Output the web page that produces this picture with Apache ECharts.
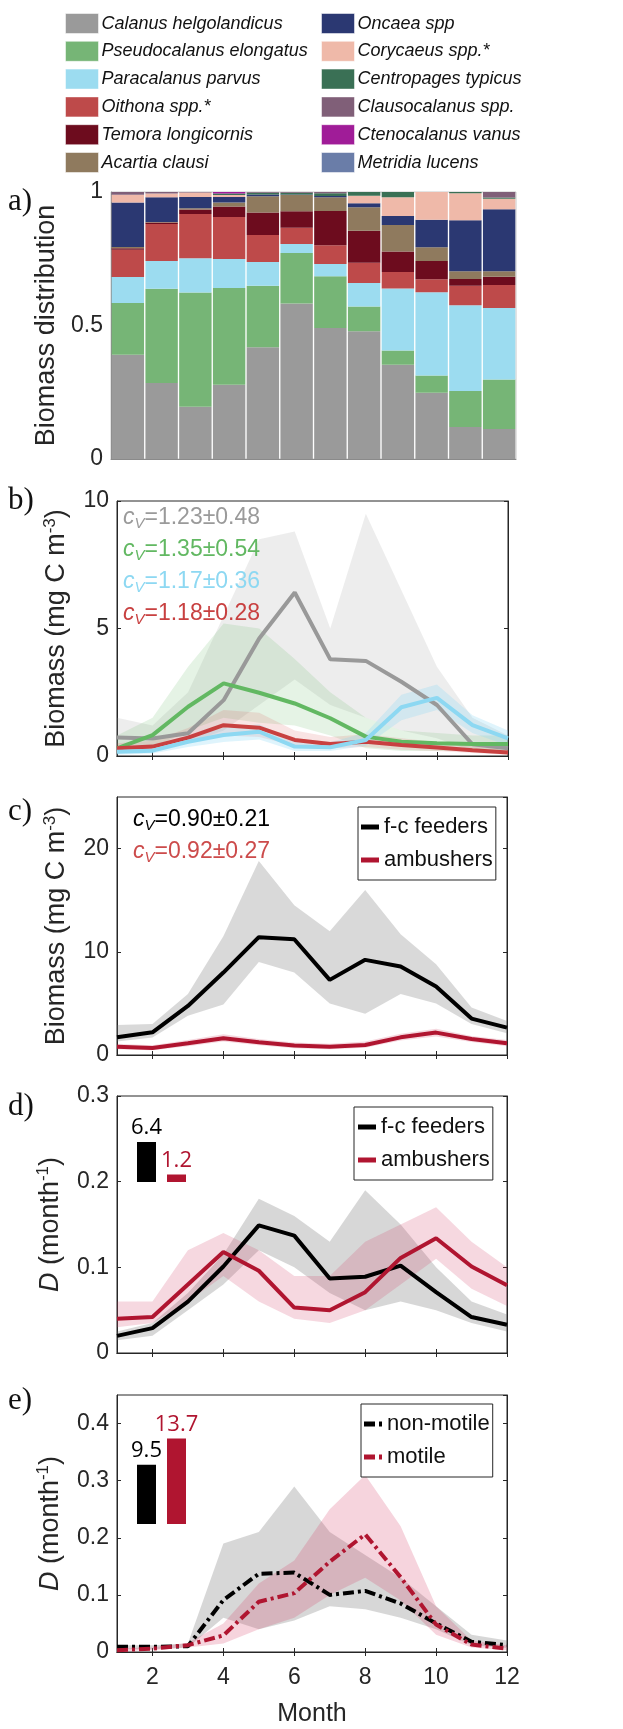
<!DOCTYPE html>
<html>
<head>
<meta charset="utf-8">
<script src="https://cdn.jsdelivr.net/npm/echarts@6/dist/echarts.min.js"></script>
<style>
  html, body { margin: 0; padding: 0; background: #fff; }
  #main { width: 623px; height: 1729px; }
</style>
</head>
<body>
<div id="main"></div>
<script>
var months = ['1', '2', '3', '4', '5', '6', '7', '8', '9', '10', '11', '12'];

// a) biomass fractions per species (stack order = legend order)
var speciesNames = ['Calanus helgolandicus', 'Pseudocalanus elongatus', 'Paracalanus parvus',
  'Oithona spp.*', 'Temora longicornis', 'Acartia clausi', 'Oncaea spp', 'Corycaeus spp.*',
  'Centropages typicus', 'Clausocalanus spp.', 'Ctenocalanus vanus', 'Metridia lucens'];
var speciesColors = ['#9a9a9a', '#76b576', '#9cdcf0', '#be4a4a', '#6d0c1e', '#8f7a5e',
  '#2b3872', '#efb9a9', '#3a7055', '#805f78', '#a01c98', '#6a7da8'];
var calanusFrac = [0.390, 0.285, 0.196, 0.278, 0.419, 0.582, 0.491, 0.478, 0.353, 0.248, 0.120, 0.112];
var pseudoFrac = [0.194, 0.353, 0.428, 0.362, 0.230, 0.190, 0.193, 0.093, 0.053, 0.065, 0.135, 0.186];
var paraFrac = [0.098, 0.104, 0.128, 0.109, 0.089, 0.033, 0.046, 0.088, 0.233, 0.312, 0.321, 0.268];
var oithonaFrac = [0.102, 0.138, 0.166, 0.157, 0.101, 0.061, 0.071, 0.076, 0.061, 0.048, 0.073, 0.086];
var temoraFrac = [0.005, 0.006, 0.016, 0.040, 0.084, 0.062, 0.128, 0.120, 0.077, 0.069, 0.025, 0.031];
var acartiaFrac = [0.005, 0.002, 0.005, 0.015, 0.061, 0.061, 0.051, 0.088, 0.099, 0.051, 0.029, 0.020];
var oncaeaFrac = [0.167, 0.092, 0.042, 0.020, 0.007, 0.002, 0.005, 0.015, 0.034, 0.103, 0.191, 0.232];
var corycaeusFrac = [0.029, 0.014, 0.017, 0.008, 0.000, 0.000, 0.000, 0.028, 0.070, 0.104, 0.101, 0.040];
var centropagesFrac = [0.000, 0.000, 0.000, 0.005, 0.006, 0.006, 0.010, 0.014, 0.020, 0.000, 0.005, 0.004];
var clausoFrac = [0.010, 0.006, 0.002, 0.000, 0.003, 0.005, 0.005, 0.000, 0.000, 0.000, 0.000, 0.021];
var ctenoFrac = [0.000, 0.000, 0.000, 0.006, 0.000, 0.000, 0.000, 0.000, 0.000, 0.000, 0.000, 0.000];
var metridiaFrac = [0.000, 0.000, 0.000, 0.000, 0.000, 0.000, 0.000, 0.000, 0.000, 0.000, 0.000, 0.000];
var speciesFrac = [calanusFrac, pseudoFrac, paraFrac, oithonaFrac, temoraFrac, acartiaFrac,
  oncaeaFrac, corycaeusFrac, centropagesFrac, clausoFrac, ctenoFrac, metridiaFrac];

// b) biomass of the four main species (mg C m-3), with ensemble range
var calanusB = [0.73, 0.69, 0.89, 2.19, 4.61, 6.41, 3.79, 3.73, 2.91, 2.00, 0.46, 0.30];
var calanusLo = [0.3, 0.3, 0.5, 1.0, 2.0, 3.0, 2.0, 1.5, 1.0, 0.7, 0.2, 0.1];
var calanusHi = [1.5, 1.2, 2.5, 5.5, 8.5, 8.8, 5.0, 9.5, 6.5, 3.5, 1.5, 0.8];
var pseudoB = [0.30, 0.82, 1.93, 2.85, 2.48, 2.06, 1.48, 0.76, 0.56, 0.50, 0.47, 0.47];
var pseudoLo = [0.1, 0.3, 1.0, 1.5, 1.3, 1.2, 0.8, 0.3, 0.2, 0.2, 0.2, 0.2];
var pseudoHi = [0.8, 1.5, 3.5, 5.2, 5.0, 3.8, 2.5, 1.5, 1.0, 0.9, 0.8, 0.8];
var paraB = [0.17, 0.21, 0.56, 0.82, 0.95, 0.37, 0.34, 0.63, 1.91, 2.28, 1.21, 0.69];
var paraLo = [0.05, 0.1, 0.35, 0.55, 0.65, 0.2, 0.2, 0.4, 1.4, 1.8, 0.9, 0.4];
var paraHi = [0.35, 0.4, 0.8, 1.1, 1.25, 0.6, 0.55, 0.9, 2.4, 2.8, 1.6, 1.0];
var oithonaB = [0.30, 0.37, 0.72, 1.21, 1.11, 0.63, 0.47, 0.56, 0.43, 0.33, 0.23, 0.14];
var oithonaLo = [0.15, 0.2, 0.5, 0.8, 0.75, 0.4, 0.3, 0.35, 0.25, 0.2, 0.12, 0.05];
var oithonaHi = [0.5, 0.6, 1.1, 1.8, 1.7, 1.0, 0.75, 0.85, 0.7, 0.55, 0.4, 0.3];
var cvB = ['1.23±0.48', '1.35±0.54', '1.17±0.36', '1.18±0.28'];

// c) biomass by feeding strategy
var fcBiomass = [1.71, 2.20, 4.75, 7.99, 11.42, 11.22, 7.28, 9.22, 8.57, 6.63, 3.53, 2.65];
var fcBiomassLo = [1.3, 1.7, 3.8, 4.9, 9.0, 8.0, 5.0, 4.0, 5.9, 5.0, 3.0, 2.1];
var fcBiomassHi = [2.9, 3.0, 5.9, 11.5, 18.8, 14.5, 12.0, 16.0, 11.7, 8.8, 4.6, 3.3];
var ambBiomass = [0.81, 0.68, 1.13, 1.62, 1.23, 0.91, 0.81, 0.97, 1.71, 2.17, 1.55, 1.13];
var ambBiomassLo = [0.55, 0.45, 0.85, 1.3, 0.95, 0.65, 0.55, 0.7, 1.4, 1.8, 1.25, 0.85];
var ambBiomassHi = [1.1, 0.95, 1.45, 2.0, 1.55, 1.2, 1.1, 1.3, 2.05, 2.55, 1.85, 1.45];
var cvC = ['0.90±0.21', '0.92±0.27'];

// d) D by feeding strategy (month^-1)
var fcD = [0.020, 0.029, 0.060, 0.101, 0.149, 0.137, 0.087, 0.089, 0.102, 0.071, 0.042, 0.033];
var fcDLo = [0.015, 0.020, 0.050, 0.080, 0.120, 0.100, 0.070, 0.050, 0.060, 0.050, 0.035, 0.025];
var fcDHi = [0.025, 0.035, 0.070, 0.115, 0.180, 0.160, 0.130, 0.190, 0.150, 0.100, 0.060, 0.045];
var ambD = [0.040, 0.042, 0.080, 0.118, 0.096, 0.053, 0.050, 0.071, 0.111, 0.134, 0.101, 0.079];
var ambDLo = [0.030, 0.035, 0.060, 0.090, 0.060, 0.040, 0.035, 0.050, 0.080, 0.110, 0.075, 0.055];
var ambDHi = [0.060, 0.060, 0.120, 0.140, 0.120, 0.090, 0.090, 0.130, 0.150, 0.170, 0.130, 0.100];
var insetD = [6.4, 1.2];

// e) D by motility (month^-1)
var nonMotileD = [0.009, 0.009, 0.010, 0.091, 0.137, 0.139, 0.100, 0.107, 0.085, 0.050, 0.018, 0.012];
var nonMotileLo = [0.005, 0.005, 0.008, 0.060, 0.040, 0.055, 0.080, 0.075, 0.060, 0.040, 0.012, 0.007];
var nonMotileHi = [0.012, 0.012, 0.015, 0.190, 0.210, 0.290, 0.210, 0.170, 0.130, 0.080, 0.030, 0.020];
var motileD = [0.003, 0.006, 0.012, 0.029, 0.088, 0.103, 0.158, 0.206, 0.131, 0.048, 0.013, 0.006];
var motileLo = [0.001, 0.003, 0.008, 0.015, 0.040, 0.060, 0.100, 0.130, 0.090, 0.030, 0.008, 0.003];
var motileHi = [0.006, 0.008, 0.016, 0.050, 0.120, 0.160, 0.250, 0.310, 0.220, 0.080, 0.020, 0.012];
var insetE = [9.5, 13.7];

var FONT = '"Liberation Sans", Arial, sans-serif';
var INK = '#262626';
var BLACK = '#000000';
var CRIMSON = '#b01530';
var DASHDOT = [11, 4, 3, 4];

var chart = echarts.init(document.getElementById('main'));

function evenMonth(i) { return i % 2 === 1; }

function monthAxis(gi, pos, labels) {
  return {
    type: 'category', gridIndex: gi, position: pos, data: months, boundaryGap: false,
    axisLine: { show: true, lineStyle: { color: INK, width: 1 } },
    axisTick: { show: true, inside: true, length: 4, interval: evenMonth, lineStyle: { color: INK } },
    axisLabel: { show: labels, interval: evenMonth, fontSize: 23, color: INK, fontFamily: FONT, margin: 14 },
    splitLine: { show: false }
  };
}

function valueAxis(gi, pos, min, max, step, labels) {
  return {
    type: 'value', gridIndex: gi, position: pos, min: min, max: max, interval: step,
    axisLine: { show: true, lineStyle: { color: INK, width: 1 } },
    axisTick: { show: true, inside: true, length: 4, lineStyle: { color: INK } },
    axisLabel: { show: labels, fontSize: 23, color: INK, fontFamily: FONT, margin: 8, showMaxLabel: max * 100 % (step * 100) < 1e-6 },
    splitLine: { show: false }
  };
}

var supStyle = { fontSize: 17, color: INK, fontFamily: FONT, verticalAlign: 'top', lineHeight: 17 };
var biomassName = {
  name: 'Biomass (mg C m{sup|-3})', nameLocation: 'middle', nameGap: 35,
  nameTextStyle: { fontSize: 27, color: INK, fontFamily: FONT, lineHeight: 31, rich: { sup: supStyle } }
};
var dName = {
  name: '{i|D} (month{sup|-1})', nameLocation: 'middle', nameGap: 43,
  nameTextStyle: { fontSize: 27, color: INK, fontFamily: FONT, lineHeight: 31,
    rich: { i: { fontSize: 27, fontStyle: 'italic', color: INK, fontFamily: FONT, lineHeight: 31 }, sup: supStyle } }
};

var frame = { show: true, borderColor: INK, borderWidth: 1, backgroundColor: 'transparent' };
var grids = [
  Object.assign({ left: 111, top: 192, width: 405, height: 267 }, frame, { borderColor: '#c8c8c8' }),
  Object.assign({ left: 117, top: 501, width: 391, height: 255 }, frame),
  Object.assign({ left: 117, top: 797, width: 390, height: 258 }, frame),
  Object.assign({ left: 117, top: 1096, width: 390, height: 257 }, frame),
  Object.assign({ left: 117, top: 1395, width: 390, height: 257 }, frame),
  { left: 131.5, top: 1082, width: 60, height: 100 },
  { left: 131.5, top: 1424, width: 60, height: 100 }
];

var xAxes = [];
var yAxes = [];

// a) category axis for bars
xAxes.push({
  type: 'category', gridIndex: 0, data: months,
  axisLine: { show: true, lineStyle: { color: '#8a8a8a' } },
  axisTick: { show: false }, axisLabel: { show: false }
});
var aY = valueAxis(0, 'left', 0, 1, 0.5, true);
aY.axisLine.lineStyle.color = '#8a8a8a';
aY.axisTick.show = false;
Object.assign(aY, { name: 'Biomass distribution', nameLocation: 'middle', nameGap: 44,
  nameTextStyle: { fontSize: 27, color: INK, fontFamily: FONT } });
yAxes.push(aY);

// b)-e) boxed panels: bottom/top x axes, left/right y axes
var panelY = [
  [0, 10, 5, biomassName],
  [0, 25, 10, biomassName],
  [0, 0.3, 0.1, dName],
  [0, 0.45, 0.1, dName]
];
var panelIdx = [];
panelY.forEach(function (p, k) {
  var gi = k + 1;
  var bottom = monthAxis(gi, 'bottom', gi === 4);
  if (gi === 4) {
    Object.assign(bottom, { name: 'Month', nameLocation: 'middle', nameGap: 50,
      nameTextStyle: { fontSize: 25, color: INK, fontFamily: FONT } });
  }
  xAxes.push(bottom);
  var xi = xAxes.length - 1;
  xAxes.push(monthAxis(gi, 'top', false));
  var left = Object.assign(valueAxis(gi, 'left', p[0], p[1], p[2], true), p[3]);
  yAxes.push(left);
  var yi = yAxes.length - 1;
  yAxes.push(valueAxis(gi, 'right', p[0], p[1], p[2], false));
  panelIdx.push({ x: xi, y: yi });
});

// inset bar axes for d) and e)
[5, 6].forEach(function (gi) {
  xAxes.push({ type: 'category', gridIndex: gi, data: ['a', 'b'], show: false });
  yAxes.push({ type: 'value', gridIndex: gi, min: 0, max: 16, show: false });
});

function band(id, p, low, high, color) {
  return [
    { type: 'line', name: id + ' low', xAxisIndex: p.x, yAxisIndex: p.y, stack: id, data: low,
      symbol: 'none', lineStyle: { opacity: 0 }, silent: true, z: 1 },
    { type: 'line', name: id + ' high', xAxisIndex: p.x, yAxisIndex: p.y, stack: id,
      data: high.map(function (h, i) { return +(h - low[i]).toFixed(4); }),
      symbol: 'none', lineStyle: { opacity: 0 }, areaStyle: { color: color, opacity: 1 }, silent: true, z: 1 }
  ];
}

function curve(name, p, data, color, dash) {
  return { type: 'line', name: name, xAxisIndex: p.x, yAxisIndex: p.y, data: data,
    symbol: 'none', itemStyle: { color: color },
    lineStyle: { color: color, width: 4, type: dash || 'solid', cap: 'butt' }, z: 5, silent: true };
}

var series = [];
speciesNames.forEach(function (n, k) {
  series.push({ type: 'bar', name: n, xAxisIndex: 0, yAxisIndex: 0, stack: 'frac',
    data: speciesFrac[k], barCategoryGap: '4%', itemStyle: { color: speciesColors[k] }, silent: true });
});

var pb = panelIdx[0], pc = panelIdx[1], pd = panelIdx[2], pe = panelIdx[3];
series = series.concat(
  band('bCal', pb, calanusLo, calanusHi, 'rgba(150,150,150,0.17)'),
  band('bPse', pb, pseudoLo, pseudoHi, 'rgba(110,190,110,0.18)'),
  band('bOit', pb, oithonaLo, oithonaHi, 'rgba(215,90,90,0.16)'),
  band('bPar', pb, paraLo, paraHi, 'rgba(140,215,245,0.28)'),
  [curve('Calanus b', pb, calanusB, '#999999'),
   curve('Pseudocalanus b', pb, pseudoB, '#62b862'),
   curve('Oithona b', pb, oithonaB, '#c84040'),
   curve('Paracalanus b', pb, paraB, '#8dd8f2')],

  band('cFc', pc, fcBiomassLo, fcBiomassHi, 'rgba(120,120,120,0.28)'),
  band('cAmb', pc, ambBiomassLo, ambBiomassHi, 'rgba(200,40,80,0.18)'),
  [curve('f-c feeders', pc, fcBiomass, BLACK), curve('ambushers', pc, ambBiomass, CRIMSON)],

  band('dFc', pd, fcDLo, fcDHi, 'rgba(110,110,110,0.28)'),
  band('dAmb', pd, ambDLo, ambDHi, 'rgba(210,60,100,0.2)'),
  [curve('f-c feeders', pd, fcD, BLACK), curve('ambushers', pd, ambD, CRIMSON)],

  band('eNm', pe, nonMotileLo, nonMotileHi, 'rgba(110,110,110,0.28)'),
  band('eMo', pe, motileLo, motileHi, 'rgba(215,60,100,0.22)'),
  [curve('non-motile', pe, nonMotileD, BLACK, DASHDOT),
   curve('motile', pe, motileD, CRIMSON, DASHDOT)]
);

// inset bars with the totals
function insetBars(xi, values) {
  var cols = [BLACK, CRIMSON];
  return { type: 'bar', xAxisIndex: xi, yAxisIndex: xi, barWidth: 19, silent: true,
    data: values.map(function (v, i) {
      return { value: v, itemStyle: { color: cols[i] }, label: { color: cols[i] } };
    }),
    label: { show: true, position: 'top', distance: 3, fontSize: 22, fontFamily: '"Open Sans", sans-serif' } };
}
series.push(insetBars(9, insetD), insetBars(10, insetE));

function cvLabel(x, y, txt, color) {
  return { type: 'text', x: x, y: y, silent: true, z: 20,
    style: { text: '{c|c}{v|V}{n|=' + txt + '}', align: 'left', verticalAlign: 'middle',
      rich: {
        c: { fontSize: 23, fontStyle: 'italic', fontFamily: FONT, fill: color, lineHeight: 26 },
        v: { fontSize: 15, fontStyle: 'italic', fontFamily: FONT, fill: color, verticalAlign: 'bottom', lineHeight: 16 },
        n: { fontSize: 23, fontFamily: FONT, fill: color, lineHeight: 26 }
      } } };
}

function panelLetter(txt, y) {
  return { type: 'text', x: 8, y: y, silent: true,
    style: { text: txt, fontSize: 31, fontFamily: '"Liberation Serif", "Times New Roman", serif',
      fill: '#111', verticalAlign: 'middle' } };
}

var graphics = [
  panelLetter('a)', 202), panelLetter('b)', 501), panelLetter('c)', 812),
  panelLetter('d)', 1107), panelLetter('e)', 1401),
  cvLabel(123, 518, cvB[0], '#9a9a9a'),
  cvLabel(123, 550, cvB[1], '#62b862'),
  cvLabel(123, 582, cvB[2], '#8dd8f2'),
  cvLabel(123, 614, cvB[3], '#c84040'),
  cvLabel(133, 820, cvC[0], BLACK),
  cvLabel(133, 852, cvC[1], '#cc4b4b')
];

function boxLegend(items, left, top, padLeft) {
  return { orient: 'vertical', left: left, top: top, data: items, selectedMode: false,
    padding: [9, 3, 9, padLeft], itemGap: 11, itemWidth: 18, itemHeight: 5,
    borderColor: INK, borderWidth: 1, backgroundColor: '#fff',
    textStyle: { fontSize: 22, color: '#111', fontFamily: FONT } };
}
var solidIcon = 'rect';
var dashIcon = 'path://M0,0H11V5H0Z M15,0H18V5H15Z';

function speciesLegend(names, left) {
  return { orient: 'vertical', left: left, top: 13, padding: 0, data: names, selectedMode: false,
    icon: 'rect', itemWidth: 33, itemHeight: 20, itemGap: 6.8,
    itemStyle: { borderColor: 'rgba(255,255,255,0.5)', borderWidth: 1 },
    textStyle: { fontSize: 18, fontStyle: 'italic', color: '#111', fontFamily: FONT, padding: [0, 0, 0, -2] } };
}

var option = {
  backgroundColor: '#ffffff',
  animation: false,
  grid: grids,
  xAxis: xAxes,
  yAxis: yAxes,
  legend: [
    speciesLegend(speciesNames.slice(0, 6), 65),
    speciesLegend(speciesNames.slice(6), 321),
    boxLegend([{ name: 'f-c feeders', icon: solidIcon }, { name: 'ambushers', icon: solidIcon }], 358, 807, 3),
    boxLegend([{ name: 'f-c feeders', icon: solidIcon }, { name: 'ambushers', icon: solidIcon }], 354, 1107, 4),
    boxLegend([{ name: 'non-motile', icon: dashIcon }, { name: 'motile', icon: dashIcon }], 361, 1404, 3)
  ],
  graphic: graphics,
  series: series
};

chart.setOption(option);
</script>
</body>
</html>
